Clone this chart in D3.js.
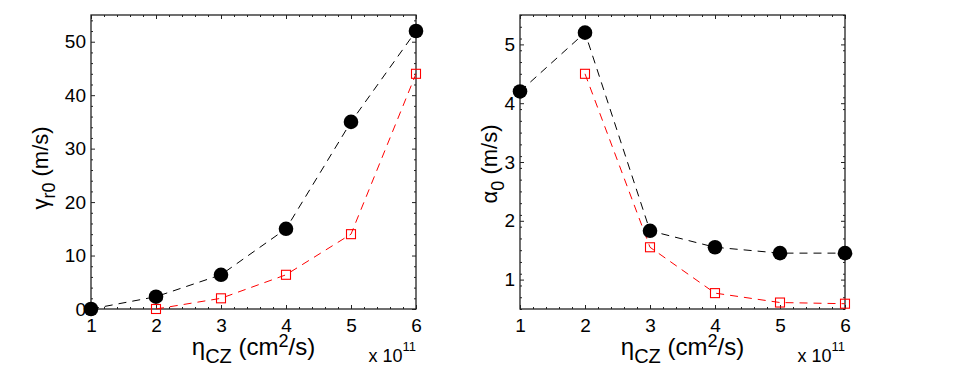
<!DOCTYPE html>
<html>
<head>
<meta charset="utf-8">
<script src="https://cdn.jsdelivr.net/npm/d3@7"></script>
<style>
  html, body { margin: 0; padding: 0; background: #fff; }
  svg { display: block; font-family: "Liberation Sans", Arial, Helvetica, sans-serif; }
</style>
</head>
<body>
<svg id="chart" width="972" height="369"></svg>
<script>
// ---- data ----
const etaCZ = [1, 2, 3, 4, 5, 6];
const etaRed = [2, 3, 4, 5, 6];
const gammaBlack = [0, 2.3, 6.4, 15, 35, 52];
const gammaRed = [0, 2, 6.4, 14, 44];
const alphaBlack = [4.2, 5.2, 1.83, 1.55, 1.45, 1.45];
const alphaRed = [4.5, 1.55, 0.77, 0.61, 0.59];
const xTicks = [1, 2, 3, 4, 5, 6];
const gammaTicks = [0, 10, 20, 30, 40, 50];
const alphaTicks = [1, 2, 3, 4, 5];

const svg = d3.select("#chart");

function panel(opts) {
  const { x0, x1, y0, y1, yDomain, yTicks, yMinorStep, blackY, redY, ylabel } = opts;
  const x = d3.scaleLinear().domain([1, 6]).range([x0, x1]);
  const y = d3.scaleLinear().domain(yDomain).range([y1, y0]);
  const g = svg.append("g");

  const xMinor = d3.range(1, 6.0001, 0.2).filter(v => Math.abs(v - Math.round(v)) > 1e-6);
  const yMinor = d3.range(yDomain[0], yDomain[1] + 1e-6, yMinorStep)
    .filter(v => !yTicks.some(t => Math.abs(t - v) < 1e-6));

  const style = sel => {
    sel.select(".domain").remove();
    sel.selectAll(".tick line").attr("stroke", "#222").attr("stroke-width", 1);
    sel.selectAll(".tick text").attr("font-size", 19).attr("fill", "#000")
      .attr("font-family", '"Liberation Sans", Arial, sans-serif');
  };

  // major axes
  g.append("g").attr("transform", `translate(0,${y1})`)
    .call(d3.axisBottom(x).tickValues(xTicks).tickFormat(d3.format("d")).tickSizeInner(-4).tickSizeOuter(0).tickPadding(10))
    .call(style);
  g.append("g").attr("transform", `translate(0,${y0})`)
    .call(d3.axisTop(x).tickValues(xTicks).tickFormat("").tickSizeInner(-4).tickSizeOuter(0))
    .call(style);
  g.append("g").attr("transform", `translate(${x0},0)`)
    .call(d3.axisLeft(y).tickValues(yTicks).tickFormat(d3.format("d")).tickSizeInner(-4).tickSizeOuter(0).tickPadding(5))
    .call(style);
  g.append("g").attr("transform", `translate(${x1},0)`)
    .call(d3.axisRight(y).tickValues(yTicks).tickFormat("").tickSizeInner(-4).tickSizeOuter(0))
    .call(style);
  // minor ticks
  g.append("g").attr("transform", `translate(0,${y1})`)
    .call(d3.axisBottom(x).tickValues(xMinor).tickFormat("").tickSizeInner(-2).tickSizeOuter(0)).call(style);
  g.append("g").attr("transform", `translate(0,${y0})`)
    .call(d3.axisTop(x).tickValues(xMinor).tickFormat("").tickSizeInner(-2).tickSizeOuter(0)).call(style);
  g.append("g").attr("transform", `translate(${x0},0)`)
    .call(d3.axisLeft(y).tickValues(yMinor).tickFormat("").tickSizeInner(-2).tickSizeOuter(0)).call(style);
  g.append("g").attr("transform", `translate(${x1},0)`)
    .call(d3.axisRight(y).tickValues(yMinor).tickFormat("").tickSizeInner(-2).tickSizeOuter(0)).call(style);

  // frame
  g.append("rect").attr("x", x0).attr("y", y0).attr("width", x1 - x0).attr("height", y1 - y0)
    .attr("fill", "none").attr("stroke", "#222").attr("stroke-width", 1.3);

  const line = d3.line().x(d => x(d[0])).y(d => y(d[1]));
  const blackPts = etaCZ.map((e, i) => [e, blackY[i]]);
  const redPts = etaRed.map((e, i) => [e, redY[i]]);

  g.append("path").datum(blackPts).attr("d", line).attr("fill", "none")
    .attr("stroke", "#000").attr("stroke-width", 1).attr("stroke-dasharray", "8,6");
  g.append("path").datum(redPts).attr("d", line).attr("fill", "none")
    .attr("stroke", "#ff0000").attr("stroke-width", 1).attr("stroke-dasharray", "8,6");

  g.selectAll("circle.b").data(blackPts).enter().append("circle")
    .attr("cx", d => x(d[0])).attr("cy", d => y(d[1])).attr("r", 7.3).attr("fill", "#000");
  g.selectAll("rect.r").data(redPts).enter().append("rect")
    .attr("x", d => x(d[0]) - 4.5).attr("y", d => y(d[1]) - 4.5).attr("width", 9).attr("height", 9)
    .attr("fill", "none").attr("stroke", "#ff0000").attr("stroke-width", 1.1);

  // x label
  const cx = (x0 + x1) / 2;
  const xl = g.append("text").attr("x", cx).attr("y", 355).attr("text-anchor", "middle")
    .attr("font-size", 24).attr("fill", "#000");
  xl.append("tspan").text("\u03B7");
  xl.append("tspan").attr("dy", 8).attr("font-size", 20).text("CZ");
  xl.append("tspan").attr("dy", -8).text(" (cm");
  xl.append("tspan").attr("dy", -8).attr("font-size", 18).text("2");
  xl.append("tspan").attr("dy", 8).text("/s)");

  // multiplier
  const mx = g.append("text").attr("x", x1).attr("y", 362).attr("text-anchor", "end")
    .attr("font-size", 18).attr("fill", "#000");
  mx.append("tspan").text("x 10");
  mx.append("tspan").attr("dy", -11).attr("font-size", 13).text("11");

  // y label
  const yl = g.append("text").attr("transform", `translate(${ylabel.x},${(y0 + y1) / 2 + ylabel.dy}) rotate(-90)`)
    .attr("text-anchor", "middle").attr("font-size", 22).attr("fill", "#000");
  yl.append("tspan").text(ylabel.sym);
  yl.append("tspan").attr("dy", 7).attr("font-size", 18).text(ylabel.sub);
  yl.append("tspan").attr("dy", -7).text(" (m/s)");
}

panel({ x0: 91, x1: 416, y0: 15, y1: 309, yDomain: [0, 55], yTicks: gammaTicks, yMinorStep: 2,
  blackY: gammaBlack, redY: gammaRed, ylabel: { x: 48, dy: 6, sym: "\u03B3", sub: "r0" } });
panel({ x0: 520, x1: 845, y0: 15, y1: 309, yDomain: [0.5, 5.5], yTicks: alphaTicks, yMinorStep: 0.2,
  blackY: alphaBlack, redY: alphaRed, ylabel: { x: 497, dy: 2, sym: "\u03B1", sub: "0" } });
</script>
</body>
</html>
